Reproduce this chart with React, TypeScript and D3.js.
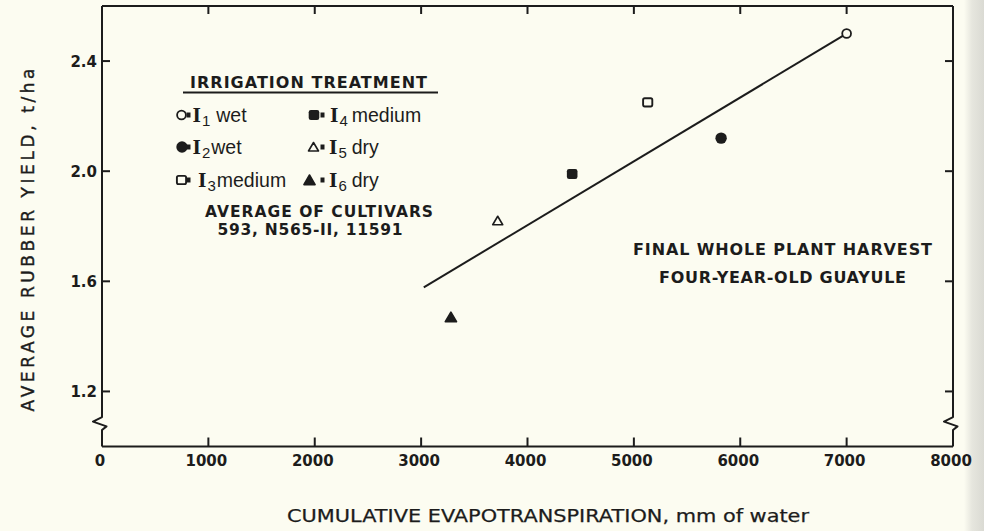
import React from 'react';
import * as d3 from 'd3';

// ---------- data ----------
const xTickValues = [0, 1000, 2000, 3000, 4000, 5000, 6000, 7000, 8000];
const yTickValues = [1.2, 1.6, 2.0, 2.4];
const yTickLabels = ['1.2', '1.6', '2.0', '2.4'];
const treatmentSubs = ['1', '2', '3', '4', '5', '6'];
const treatmentLabels = ['wet', 'wet', 'medium', 'medium', 'dry', 'dry'];
const treatmentSymbols = ['circleOpen', 'circleFilled', 'squareOpen', 'squareFilled', 'triangleOpen', 'triangleFilled'];
const evapotranspiration = [7000, 5820, 5130, 4420, 3720, 3280];
const rubberYield = [2.5, 2.12, 2.25, 1.99, 1.82, 1.47];
const fitX = [3025, 6980];
const fitY = [1.578, 2.495];
const axisBreak = [1.06, 1.107];

const INK = '#1c1c1c';
const BG = '#fcfcf1';
const W = 984;
const H = 531;

const x = d3.scaleLinear().domain([0, 8000]).range([102, 953]);
const y = d3.scaleLinear().domain([1.0, 2.6]).range([446.5, 6]);

function Marker({ kind, cx, cy }: { kind: string; cx: number; cy: number }) {
  if (kind === 'circleOpen') return <circle cx={cx} cy={cy} r={4.4} fill={BG} stroke={INK} strokeWidth={1.8} />;
  if (kind === 'circleFilled') return <circle cx={cx} cy={cy} r={5.7} fill={INK} />;
  if (kind === 'squareOpen') return <rect x={cx - 4.6} y={cy - 4.1} width={9.2} height={8.2} rx={1.6} fill={BG} stroke={INK} strokeWidth={1.9} />;
  if (kind === 'squareFilled') return <rect x={cx - 5.3} y={cy - 5} width={10.6} height={10} rx={2.2} fill={INK} />;
  if (kind === 'triangleOpen') {
    const p = `M${cx},${cy - 4.5} L${cx + 5},${cy + 4} L${cx - 5},${cy + 4} Z`;
    return <path d={p} fill={BG} stroke={INK} strokeWidth={1.6} strokeLinejoin="round" />;
  }
  const p = `M${cx},${cy - 5} L${cx + 5.6},${cy + 4.6} L${cx - 5.6},${cy + 4.6} Z`;
  return <path d={p} fill={INK} stroke={INK} strokeWidth={1.6} strokeLinejoin="round" />;
}

const sans = '"DejaVu Sans", sans-serif';
const helv = '"Liberation Sans", Arial, sans-serif';
const serif = '"DejaVu Serif", serif';

export default function App() {
  const x0 = x(0);
  const x1 = x(8000);
  const yTop = y(2.6);
  const yBot = y(1.0);
  const bHi = y(axisBreak[1]);
  const bLo = y(axisBreak[0]);
  const bMid1 = bHi + (bLo - bHi) * 0.35;
  const bMid2 = bHi + (bLo - bHi) * 0.72;
  const sideBreak = (xx: number) =>
    `M${xx},${yTop} L${xx},${bHi} L${xx - 9},${bMid1} L${xx + 4.5},${bMid2} L${xx},${bLo} L${xx},${yBot}`;

  const line = d3.line<number>().x((d, i) => x(fitX[i])).y((d, i) => y(fitY[i]));

  // legend layout: column 1 entries 0-2, column 2 entries 3-5
  const rowY = [115, 147, 180];
  const legendRows = treatmentSymbols.map((s, i) => ({ s, i, col: i < 3 ? 0 : 1, row: i % 3 }));
  const colGeom = [
    { m: [181.5, 182, 181.5], eq: 186.5, I: [192.5, 192.5, 198], gap: [6, 1, 1] },
    { m: [314, 313.5, 309.5], eq: 320.5, I: [330, 329, 329], gap: [4, 5, 5] },
  ];

  return (
    <div style={{ position: 'absolute', left: 0, top: 0, width: W, height: H }}>
      <svg width={W} height={H} viewBox={`0 0 ${W} ${H}`} style={{ display: 'block' }}>
        <defs>
          <linearGradient id="edge" x1="0" x2="1" y1="0" y2="0">
            <stop offset="0" stopColor={BG} />
            <stop offset="0.4" stopColor="#e6e6de" />
            <stop offset="1" stopColor="#dadad3" />
          </linearGradient>
        </defs>
        <rect x={0} y={0} width={W} height={H} fill={BG} />
        <rect x={964} y={0} width={20} height={H} fill="url(#edge)" />

        {/* frame */}
        <g fill="none" stroke={INK} strokeWidth={2} strokeLinejoin="round">
          <line x1={x0} x2={x1} y1={yTop} y2={yTop} />
          <line x1={x0} x2={x1} y1={yBot} y2={yBot} />
          <path d={sideBreak(x0)} />
          <path d={sideBreak(x1)} />
          {xTickValues.slice(1, -1).map((v) => (
            <g key={v}>
              <line x1={x(v)} x2={x(v)} y1={yTop} y2={yTop + 8} />
              <line x1={x(v)} x2={x(v)} y1={yBot} y2={yBot - 9} />
            </g>
          ))}
          {yTickValues.map((v) => (
            <g key={v}>
              <line x1={x0} x2={x0 + 8} y1={y(v)} y2={y(v)} />
              <line x1={x1} x2={x1 - 8} y1={y(v)} y2={y(v)} />
            </g>
          ))}
        </g>

        {/* tick labels */}
        <g fill={INK} fontFamily={sans} fontSize={15} fontWeight="bold">
          {xTickValues.map((v) => (
            <text key={v} x={x(v) - 2} y={466} textAnchor="middle">{String(v)}</text>
          ))}
          {yTickValues.map((v, i) => (
            <text key={v} x={97} y={y(v) + 5.5} textAnchor="end">{yTickLabels[i]}</text>
          ))}
        </g>

        {/* axis titles */}
        <text
          transform={`translate(28,240) rotate(-90)`}
          dy={6}
          textAnchor="middle"
          fontFamily={sans}
          fontSize={17}
          fill={INK}
          stroke={INK}
          strokeWidth={0.4}
          textLength={343}
          lengthAdjust="spacing"
        >
          AVERAGE  RUBBER  YIELD, t/ha
        </text>
        <text
          x={548}
          y={522}
          textAnchor="middle"
          fontFamily={sans}
          fontSize={17}
          fill={INK}
          stroke={INK}
          strokeWidth={0.25}
          textLength={522}
          lengthAdjust="spacingAndGlyphs"
        >
          CUMULATIVE  EVAPOTRANSPIRATION, mm of water
        </text>

        {/* fit line */}
        <path d={line(fitX) || ''} fill="none" stroke={INK} strokeWidth={2} />

        {/* points */}
        {evapotranspiration.map((v, i) => (
          <Marker key={i} kind={treatmentSymbols[i]} cx={x(v)} cy={y(rubberYield[i])} />
        ))}

        {/* legend */}
        <text x={308.5} y={88} textAnchor="middle" fontFamily={sans} fontSize={16} fontWeight="bold" fill={INK} textLength={237} lengthAdjust="spacing">
          IRRIGATION  TREATMENT
        </text>
        <line x1={183} x2={438} y1={92.5} y2={92.5} stroke={INK} strokeWidth={1.8} />
        {legendRows.map(({ s, i, col, row }) => {
          const g = colGeom[col];
          const cy = rowY[row];
          return (
            <g key={i}>
              <Marker kind={s} cx={g.m[row]} cy={cy} />
              <rect x={g.eq} y={cy - 2.5} width={4} height={5} fill={INK} />
              <text x={g.I[row]} y={cy + 6.5} fill={INK}>
                <tspan fontFamily={serif} fontWeight="bold" fontSize={18}>I</tspan>
                <tspan fontFamily={helv} fontSize={15} dy={4.5} dx={1}>{treatmentSubs[i]}</tspan>
                <tspan fontFamily={helv} fontSize={19.5} dy={-4.5} dx={g.gap[row]}>{treatmentLabels[i]}</tspan>
              </text>
            </g>
          );
        })}
        <text x={319} y={217} textAnchor="middle" fontFamily={sans} fontSize={15.5} fontWeight="bold" fill={INK} textLength={228} lengthAdjust="spacing">
          AVERAGE OF CULTIVARS
        </text>
        <text x={310} y={235} textAnchor="middle" fontFamily={sans} fontSize={15.5} fontWeight="bold" fill={INK} textLength={185} lengthAdjust="spacing">
          593, N565-II, 11591
        </text>

        {/* annotation */}
        <text x={782.5} y={255} textAnchor="middle" fontFamily={sans} fontSize={16} fontWeight="bold" fill={INK} textLength={299} lengthAdjust="spacing">
          FINAL WHOLE PLANT HARVEST
        </text>
        <text x={782.5} y={283} textAnchor="middle" fontFamily={sans} fontSize={16} fontWeight="bold" fill={INK} textLength={247} lengthAdjust="spacing">
          FOUR-YEAR-OLD GUAYULE
        </text>
      </svg>
    </div>
  );
}
